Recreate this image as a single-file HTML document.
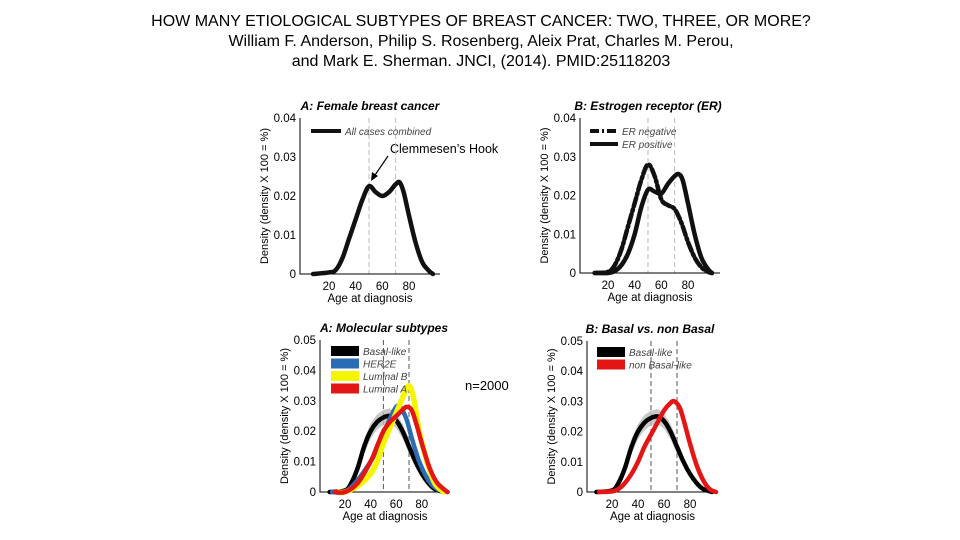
<!DOCTYPE html>
<html><head><meta charset="utf-8"><style>
body{margin:0;background:#fff;width:960px;height:540px;overflow:hidden;font-family:"Liberation Sans",Arial,sans-serif}
svg{position:absolute;left:0;top:0}
text{font-family:"Liberation Sans",Arial,sans-serif}
</style></head><body>
<svg id="s" width="960" height="540" viewBox="0 0 960 540">
<g font-size="16" text-anchor="middle" fill="#000">
<text x="481" y="26">HOW MANY ETIOLOGICAL SUBTYPES OF BREAST CANCER: TWO, THREE, OR MORE?</text>
<text x="481" y="46">William F. Anderson, Philip S. Rosenberg, Aleix Prat, Charles M. Perou,</text>
<text x="481" y="66">and Mark E. Sherman. JNCI, (2014). PMID:25118203</text>
</g>
<text x="390" y="153" font-size="12.5">Clemmesen’s Hook</text>
<line x1="388" y1="156" x2="373" y2="178" stroke="#000" stroke-width="1.2"/>
<polygon points="371,181 372,172 378,176" fill="#000"/>
<text x="465" y="390" font-size="13">n=2000</text>
</svg>
<script>
// Panel A (top): all cases
const agesAll=[8,20,25,30,35,40,45,50,55,60,65,70,73,76,80,85,90,95,98];
const valsAll=[0,0.0004,0.001,0.004,0.009,0.014,0.019,0.0225,0.021,0.020,0.021,0.023,0.0235,0.021,0.015,0.008,0.003,0.0008,0];
// Panel B (top): ER
const agesErNeg=[10,20,25,30,35,40,45,50,55,60,65,70,75,80,85,90,95,98];
const valsErNeg=[0,0.0003,0.002,0.006,0.012,0.018,0.024,0.028,0.025,0.019,0.0175,0.0165,0.013,0.008,0.004,0.0015,0.0003,0];
const agesErPos=[10,20,25,30,35,40,45,50,55,60,65,70,73,76,80,85,90,95,98];
const valsErPos=[0,0,0.0005,0.002,0.005,0.010,0.017,0.0215,0.021,0.0205,0.023,0.025,0.0255,0.024,0.018,0.010,0.004,0.001,0];
// Bottom panels
const agesBasal=[8,20,25,30,35,40,45,50,55,60,65,70,75,80,85,90,97];
const valsBasal=[0,0.0005,0.003,0.008,0.015,0.020,0.023,0.0245,0.025,0.0235,0.020,0.015,0.010,0.006,0.003,0.001,0];
const agesHer2=[10,20,30,40,45,50,55,60,63,68,72,78,85,92,100];
const valsHer2=[0,0,0.004,0.010,0.014,0.019,0.024,0.028,0.028,0.024,0.018,0.010,0.004,0.001,0];
const agesLumB=[15,20,30,40,45,50,55,60,65,70,74,78,84,90,97];
const valsLumB=[0,0,0.002,0.006,0.010,0.016,0.021,0.026,0.031,0.035,0.030,0.020,0.010,0.003,0];
const agesLumA=[12,20,30,40,45,50,55,60,65,68,72,76,80,86,92,100];
const valsLumA=[0,0,0.003,0.010,0.015,0.020,0.023,0.025,0.027,0.028,0.027,0.022,0.016,0.008,0.003,0];
const agesNonBasal=[10,20,25,30,35,40,45,50,55,60,65,68,72,75,80,85,90,95,100];
const valsNonBasal=[0,0.0002,0.001,0.003,0.006,0.010,0.015,0.019,0.023,0.027,0.0295,0.030,0.028,0.024,0.016,0.009,0.004,0.001,0];
const xTicks=[20,40,60,80];
const yTicksTop=[0,0.01,0.02,0.03,0.04];
const yTickLabelsTop=["0","0.01","0.02","0.03","0.04"];
const yTicksBot=[0,0.01,0.02,0.03,0.04,0.05];
const yTickLabelsBot=["0","0.01","0.02","0.03","0.04","0.05"];

const NS="http://www.w3.org/2000/svg";
const svg=document.getElementById('s');
function mk(tag,attrs,parent){const e=document.createElementNS(NS,tag);for(const k in attrs)e.setAttribute(k,attrs[k]);(parent||svg).appendChild(e);return e;}
function smooth(pts){
  let d='M'+pts[0][0]+','+pts[0][1];
  for(let i=0;i<pts.length-1;i++){
    const p0=pts[Math.max(0,i-1)],p1=pts[i],p2=pts[i+1],p3=pts[Math.min(pts.length-1,i+2)];
    const c1=[p1[0]+(p2[0]-p0[0])/6,p1[1]+(p2[1]-p0[1])/6];
    const c2=[p2[0]-(p3[0]-p1[0])/6,p2[1]-(p3[1]-p1[1])/6];
    d+=`C${c1[0]},${c1[1]} ${c2[0]},${c2[1]} ${p2[0]},${p2[1]}`;
  }
  return d;
}

function panel(cfg){
  const g=mk('g',{});
  
  
  const X=a=>cfg.x20+(a-20)*cfg.k;
  const Y=v=>cfg.y0-(v/cfg.ymax)*(cfg.y0-cfg.ytop);
  [50,70].forEach(a=>{const l=mk('line',{x1:X(a),x2:X(a),y1:cfg.ytop,y2:cfg.y0,stroke:cfg.dashCol,'stroke-width':1,'stroke-dasharray':'5,3'},g);
    
    });
  const ax=mk('path',{d:`M${cfg.ax},${cfg.ytop}V${cfg.y0}H${cfg.xr}`,stroke:'#000','stroke-width':1,fill:'none'},g);
  
  
  cfg.yt.forEach((v,i)=>{const t=mk('text',{x:cfg.ax-4,y:Y(v)+4,'font-size':11.5,'text-anchor':'end'},g);t.textContent=cfg.ytl[i];
    
    });
  xTicks.forEach(a=>{const t=mk('text',{x:X(a),y:cfg.y0+16,'font-size':11.5,'text-anchor':'middle'},g);t.textContent=a;
    
    });
  const xl=mk('text',{x:(cfg.ax+cfg.xr)/2,y:cfg.y0+28,'font-size':11.5,'text-anchor':'middle'},g);xl.textContent='Age at diagnosis';
  
  
  const yc=(cfg.ytop+cfg.y0)/2;
  const yl=mk('text',{x:cfg.ax-32,y:yc,'font-size':11,'text-anchor':'middle',transform:`rotate(-90 ${cfg.ax-32} ${yc})`},g);yl.textContent='Density (density X 100 = %)';
  
  
  const ti=mk('text',{x:cfg.tx,y:cfg.ytop-8,'font-size':12,'font-weight':'bold','font-style':'italic','text-anchor':'middle'},g);ti.textContent=cfg.title;
  
  
  (cfg.bands||[]).forEach(b=>{
    let up=[],lo=[];
    b.ages.forEach((a,i)=>{if(a>=35&&a<=70){up.push(`${X(a)},${Y(b.vals[i]+0.0025)}`);lo.unshift(`${X(a)},${Y(Math.max(0,b.vals[i]-0.0025))}`);}});
    const p=mk('polygon',{points:up.concat(lo).join(' '),fill:'#bbb',opacity:0.8},g);
    
    
  });
  cfg.series.forEach(s=>{
    const d=smooth(s.ages.map((a,i)=>[X(a),Y(s.vals[i])]));
    const p=mk('path',{d:d,stroke:s.col,'stroke-width':s.w,fill:'none','stroke-linejoin':'round','stroke-linecap':'round'},g);
    if(s.dash)p.setAttribute('stroke-dasharray',s.dash);
    
    
  });
  cfg.legend.forEach((L,i)=>{
    const y=cfg.ly+i*cfg.ldy;
    const l=mk('line',{x1:cfg.lx,x2:cfg.lx+cfg.lw,y1:y,y2:y,stroke:L.col,'stroke-width':L.w},g);
    if(L.dash)l.setAttribute('stroke-dasharray',L.dash);
    
    
    const t=mk('text',{x:cfg.lx+cfg.lw+4,y:y+4,'font-size':10,'font-style':'italic',fill:'#444'},g);t.textContent=L.label;
    
    
  });
}
panel({name:'panel-female-breast-cancer',ax:300,xr:440,ytop:118,y0:274,ymax:0.04,x20:329,k:1.333,yt:yTicksTop,ytl:yTickLabelsTop,tx:370,title:'A: Female breast cancer',dashCol:'#bbb',
  series:[{name:'all-cases',ages:agesAll,vals:valsAll,col:'#111',w:4.5}],
  legend:[{label:'All cases combined',col:'#111',w:4}],lx:311,ly:131,ldy:13,lw:30});
panel({name:'panel-estrogen-receptor',ax:580,xr:720,ytop:118,y0:273,ymax:0.04,x20:608,k:1.333,yt:yTicksTop,ytl:yTickLabelsTop,tx:648,title:'B: Estrogen receptor (ER)',dashCol:'#bbb',
  series:[{name:'er-negative',ages:agesErNeg,vals:valsErNeg,col:'#111',w:4.5,dash:'9,3,2,3'},{name:'er-positive',ages:agesErPos,vals:valsErPos,col:'#111',w:4.5}],
  legend:[{label:'ER negative',col:'#111',w:4,dash:'9,3,2,3'},{label:'ER positive',col:'#111',w:4}],lx:590,ly:131,ldy:13,lw:28});
panel({name:'panel-molecular-subtypes',ax:320,xr:450,ytop:340,y0:492,ymax:0.05,x20:345,k:1.28,yt:yTicksBot,ytl:yTickLabelsBot,tx:384,title:'A: Molecular subtypes',dashCol:'#555',
  bands:[{ages:agesBasal,vals:valsBasal}],
  series:[{name:'basal-like',ages:agesBasal,vals:valsBasal,col:'#000',w:4.5},{name:'her2e',ages:agesHer2,vals:valsHer2,col:'#2a6db5',w:4.5},
    {name:'luminal-b',ages:agesLumB,vals:valsLumB,col:'#f5f500',w:5.5},{name:'luminal-a',ages:agesLumA,vals:valsLumA,col:'#e41515',w:4.5}],
  legend:[{label:'Basal-like',col:'#000',w:10},{label:'HER2E',col:'#2a6db5',w:10},{label:'Luminal B',col:'#f5f500',w:10},{label:'Luminal A',col:'#e41515',w:10}],lx:331,ly:351,ldy:12.5,lw:28});
panel({name:'panel-basal-vs-non-basal',ax:587,xr:718,ytop:341,y0:492,ymax:0.05,x20:612,k:1.3,yt:yTicksBot,ytl:yTickLabelsBot,tx:650,title:'B: Basal vs. non Basal',dashCol:'#555',
  bands:[{ages:agesBasal,vals:valsBasal}],
  series:[{name:'basal-like',ages:agesBasal,vals:valsBasal,col:'#000',w:4.5},{name:'non-basal-like',ages:agesNonBasal,vals:valsNonBasal,col:'#e41515',w:4.5}],
  legend:[{label:'Basal-like',col:'#000',w:10},{label:'non Basal-like',col:'#e41515',w:10}],lx:597,ly:352,ldy:12.5,lw:28});
</script>
</body></html>
